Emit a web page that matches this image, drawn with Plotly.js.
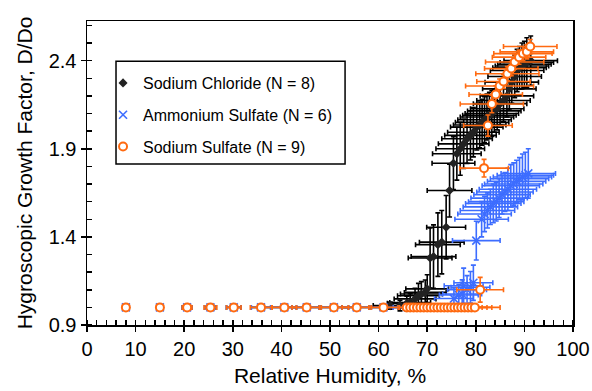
<!DOCTYPE html>
<html>
<head>
<meta charset="utf-8">
<script src="https://cdn.plot.ly/plotly-3.0.1.min.js"></script>
<style>html,body{margin:0;padding:0;background:#fff;}#chart{width:592px;height:391px;}</style>
</head>
<body>
<div id="chart"></div>
<script>
// Sodium Chloride (N = 8)
const naclX = [8.0, 15.0, 20.6, 25.4, 30.2, 35.8, 40.6, 45.2, 50.8, 55.5, 61.0, 62.4, 64.4, 65.8, 66.5, 67.5, 68.2, 68.8, 69.6, 70.0, 70.6, 71.3, 72.2, 73.0, 73.9, 74.6, 75.4, 76.1, 76.8, 77.5, 78.2, 78.9, 79.5, 80.2, 80.8, 81.3, 81.8, 82.3, 82.8, 83.3, 83.8, 84.4, 85.0, 85.7, 86.4, 86.9, 87.4, 88.0, 88.5, 89.0, 89.5, 90.0, 90.5, 91.3];
const naclY = [1.0, 1.0, 1.0, 1.0, 1.0, 1.0, 1.0, 1.0, 1.0, 1.0, 1.0, 1.01, 1.01, 1.023, 1.028, 1.048, 1.066, 1.076, 1.085, 1.105, 1.28, 1.288, 1.356, 1.37, 1.455, 1.663, 1.818, 1.872, 1.90, 1.928, 1.957, 1.976, 1.994, 2.023, 2.035, 2.05, 2.065, 2.08, 2.09, 2.10, 2.115, 2.127, 2.156, 2.174, 2.20, 2.24, 2.278, 2.31, 2.344, 2.36, 2.37, 2.38, 2.39, 2.40];
const naclXErr = [0.2, 0.5, 1.0, 1.2, 1.5, 2.0, 2.5, 3.0, 3.0, 3.0, 3.0, 3.5, 3.8, 4.0, 4.2, 4.3, 4.3, 4.3, 4.3, 4.4, 4.5, 4.6, 4.6, 4.6, 4.0, 4.6, 4.4, 5.0, 5.0, 5.2, 5.2, 5.3, 5.3, 5.4, 5.4, 5.5, 5.5, 5.5, 5.5, 5.5, 5.5, 5.5, 5.5, 5.5, 5.5, 5.5, 5.5, 5.5, 5.5, 5.5, 5.5, 5.5, 5.5, 5.5];
const naclYErr = [0.005, 0.005, 0.005, 0.005, 0.005, 0.005, 0.005, 0.005, 0.005, 0.005, 0.01, 0.02, 0.03, 0.04, 0.05, 0.06, 0.07, 0.07, 0.07, 0.08, 0.17, 0.18, 0.18, 0.18, 0.18, 0.15, 0.15, 0.15, 0.15, 0.14, 0.14, 0.14, 0.14, 0.13, 0.13, 0.13, 0.13, 0.13, 0.13, 0.13, 0.12, 0.12, 0.12, 0.12, 0.12, 0.12, 0.12, 0.12, 0.12, 0.12, 0.13, 0.13, 0.14, 0.14];

// Ammonium Sulfate (N = 6)
const amsX = [8.0, 15.0, 20.6, 25.4, 30.2, 35.8, 40.6, 45.2, 50.8, 55.5, 61.0, 66.0, 68.5, 71.0, 73.5, 75.5, 76.5, 77.2, 77.5, 78.2, 78.9, 79.5, 80.1, 81.2, 81.8, 82.4, 83.0, 83.6, 84.2, 84.8, 85.4, 86.0, 86.6, 87.2, 87.8, 88.4, 89.0, 89.6, 90.2, 90.8];
const amsY = [1.0, 1.0, 1.0, 1.0, 1.0, 1.0, 1.0, 1.0, 1.0, 1.0, 1.0, 1.0, 1.0, 1.0, 1.0, 1.05, 1.07, 1.076, 1.123, 1.10, 1.114, 1.14, 1.379, 1.50, 1.53, 1.55, 1.57, 1.59, 1.60, 1.62, 1.64, 1.655, 1.67, 1.69, 1.70, 1.715, 1.73, 1.74, 1.75, 1.76];
const amsXErr = [0.2, 0.5, 1.0, 1.2, 1.5, 2.0, 2.5, 3.0, 3.0, 3.0, 3.0, 3.0, 3.0, 3.0, 3.5, 4.0, 4.0, 4.0, 4.0, 4.0, 4.0, 4.0, 4.9, 5.5, 5.5, 5.6, 5.6, 5.7, 5.7, 5.8, 5.8, 5.8, 5.9, 5.9, 6.0, 6.0, 6.0, 6.0, 5.8, 5.6];
const amsYErr = [0.005, 0.005, 0.005, 0.005, 0.005, 0.005, 0.005, 0.005, 0.005, 0.005, 0.005, 0.01, 0.01, 0.01, 0.02, 0.06, 0.06, 0.08, 0.1, 0.08, 0.09, 0.1, 0.11, 0.1, 0.1, 0.1, 0.1, 0.11, 0.11, 0.11, 0.11, 0.11, 0.12, 0.12, 0.12, 0.12, 0.12, 0.13, 0.13, 0.14];

// Sodium Sulfate (N = 9)
const nasX = [8.0, 15.0, 20.6, 25.4, 30.2, 35.8, 40.6, 45.2, 50.8, 55.5, 61.0, 65.8, 66.5, 67.2, 67.9, 68.6, 69.3, 70.0, 70.7, 71.4, 72.1, 72.8, 73.5, 74.2, 74.9, 75.6, 76.3, 77.0, 77.7, 78.4, 79.1, 79.8, 80.9, 81.7, 82.5, 83.3, 84.1, 84.9, 85.7, 86.5, 87.3, 88.0, 88.9, 89.7, 90.5, 91.2];
const nasY = [1.0, 1.0, 1.0, 1.0, 1.0, 1.0, 1.0, 1.0, 1.0, 1.0, 1.0, 1.0, 1.0, 1.0, 1.0, 1.0, 1.0, 1.0, 1.0, 1.0, 1.0, 1.0, 1.0, 1.0, 1.0, 1.0, 1.0, 1.0, 1.0, 1.0, 1.0, 1.0, 1.10, 1.79, 2.032, 2.154, 2.208, 2.256, 2.282, 2.326, 2.355, 2.392, 2.42, 2.44, 2.45, 2.48];
const nasXErr = [0.2, 0.6, 1.0, 1.3, 1.5, 2.2, 2.5, 3.0, 3.0, 3.0, 3.0, 1.5, 1.5, 1.5, 1.5, 1.5, 1.5, 1.5, 1.5, 1.5, 1.5, 1.5, 1.5, 1.5, 1.5, 1.5, 2.5, 3.0, 3.6, 3.9, 4.2, 5.2, 4.8, 5.0, 5.0, 6.5, 5.5, 7.0, 5.5, 6.5, 5.5, 6.0, 5.5, 6.0, 5.5, 5.5];
const nasYErr = [0.005, 0.005, 0.005, 0.005, 0.005, 0.005, 0.005, 0.005, 0.005, 0.005, 0.005, 0.005, 0.005, 0.005, 0.005, 0.005, 0.005, 0.005, 0.005, 0.005, 0.005, 0.005, 0.005, 0.005, 0.005, 0.005, 0.005, 0.005, 0.005, 0.005, 0.005, 0.005, 0.07, 0.05, 0.06, 0.05, 0.05, 0.04, 0.04, 0.04, 0.04, 0.04, 0.04, 0.04, 0.04, 0.04];

const seriesNames = ["Sodium Chloride (N = 8)", "Ammonium Sulfate (N = 6)", "Sodium Sulfate (N = 9)"];

const BLACK = "#000000", BLUE = "#3D6DFF", ORANGE = "#FF6A10";
const FONT = "Liberation Sans, Arial, Helvetica, sans-serif";

function errs(arr, color) {
  return {type: "data", array: arr, visible: true, color: color, thickness: 1.6, width: 2.5};
}

const traces = [
  {x: naclX, y: naclY, type: "scatter", mode: "markers", name: seriesNames[0], legendgroup: "a",
   marker: {symbol: "diamond", size: 7, color: "#222"},
   error_x: errs(naclXErr, BLACK), error_y: errs(naclYErr, BLACK)},
  {x: amsX, y: amsY, type: "scatter", mode: "markers", name: seriesNames[1], legendgroup: "b",
   marker: {symbol: "x-thin", size: 8, color: BLUE, line: {color: BLUE, width: 1.6}},
   error_x: errs(amsXErr, BLUE), error_y: errs(amsYErr, BLUE)},
  {x: nasX, y: nasY, type: "scatter", mode: "markers", name: seriesNames[2], legendgroup: "c",
   marker: {symbol: "circle", size: 8, color: "#ffffff", line: {color: ORANGE, width: 2}},
   error_x: errs(nasXErr, ORANGE), error_y: errs(nasYErr, ORANGE)},
  {x: [], y: [], xaxis: "x2", yaxis: "y2", showlegend: false, hoverinfo: "skip", type: "scatter", mode: "markers"}
];

const layout = {
  width: 592, height: 391,
  margin: {l: 87, r: 19, t: 21, b: 66},
  paper_bgcolor: "#fff", plot_bgcolor: "#fff",
  font: {family: FONT, color: "#000", size: 20},
  showlegend: true,
  legend: {x: 0.033, y: 0.852, xanchor: "left", yanchor: "top", bgcolor: "rgba(0,0,0,0)", borderwidth: 0,
           font: {family: FONT, size: 16, color: "#000"}, traceorder: "grouped", tracegroupgap: 8},
  shapes: [{type: "rect", xref: "paper", yref: "paper", x0: 0.0597, x1: 0.531, y0: 0.5296, y1: 0.868,
            line: {color: "#000", width: 1.5}, fillcolor: "rgba(0,0,0,0)", layer: "above"}],
  xaxis: {range: [0, 100], tick0: 0, dtick: 10, ticks: "outside", ticklen: 5, tickwidth: 1.5, tickcolor: "#000",
          minor: {dtick: 2, ticks: "inside", ticklen: 5, tickwidth: 1.5, tickcolor: "#000", showgrid: false},
          showline: true, linecolor: "#000", linewidth: 1.5, mirror: true, showgrid: false, zeroline: false,
          tickfont: {size: 20}, title: {text: "Relative Humidity, %", font: {size: 21}, standoff: 10}},
  yaxis: {range: [0.9, 2.625], tick0: 0.9, dtick: 0.5, ticks: "outside", ticklen: 5, tickwidth: 1.5, tickcolor: "#000",
          tickformat: ".1f",
          minor: {dtick: 0.1, ticks: "inside", ticklen: 5, tickwidth: 1.5, tickcolor: "#000", showgrid: false},
          showline: true, linecolor: "#000", linewidth: 1.5, mirror: true, showgrid: false, zeroline: false,
          tickfont: {size: 20}, title: {text: "Hygroscopic Growth Factor, D/Do", font: {size: 21}, standoff: 10}},
  xaxis2: {overlaying: "x", matches: "x", anchor: "y2", side: "bottom", tick0: 0, dtick: 10, ticks: "inside", ticklen: 5,
           tickwidth: 1.5, tickcolor: "#000", showticklabels: false, showline: false, showgrid: false, zeroline: false},
  yaxis2: {overlaying: "y", matches: "y", anchor: "x2", side: "left", tick0: 0.9, dtick: 0.5, ticks: "inside", ticklen: 5,
           tickwidth: 1.5, tickcolor: "#000", showticklabels: false, showline: false, showgrid: false, zeroline: false}
};

Plotly.newPlot("chart", traces, layout, {displayModeBar: false, staticPlot: true});
</script>
</body>
</html>
